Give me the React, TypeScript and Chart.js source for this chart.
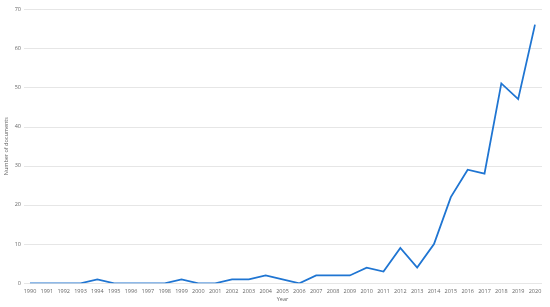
import React, { useEffect, useRef } from "react";
import { Chart, registerables } from "chart.js";

Chart.register(...registerables);

const years: string[] = [
  "1990","1991","1992","1993","1994","1995","1996","1997","1998","1999",
  "2000","2001","2002","2003","2004","2005","2006","2007","2008","2009",
  "2010","2011","2012","2013","2014","2015","2016","2017","2018","2019","2020",
];
const documents: number[] = [
  0, 0, 0, 0, 1, 0, 0, 0, 0, 1,
  0, 0, 1, 1, 2, 1, 0, 2, 2, 2,
  4, 3, 9, 4, 10, 22, 29, 28, 51, 47, 66,
];
const yAxisTitle = "Number of documents";
const xAxisTitle = "Year";

const gridPlugin = {
  id: "extendedGrid",
  beforeDatasetsDraw(chart: any) {
    const { ctx, chartArea, scales } = chart;
    const y = scales.y;
    ctx.save();
    ctx.strokeStyle = "#e6e6e6";
    ctx.lineWidth = 1;
    y.ticks.forEach((_t: any, i: number) => {
      const py = Math.round(y.getPixelForTick(i)) + 0.5;
      ctx.beginPath();
      ctx.moveTo(chartArea.left - 6, py);
      ctx.lineTo(chartArea.right + 7, py);
      ctx.stroke();
    });
    ctx.restore();
  },
};

export default function App() {
  const ref = useRef<HTMLCanvasElement | null>(null);
  useEffect(() => {
    document.body.style.margin = "0";
    if (!ref.current) return;
    const textColor = "#666666";
    const font = { family: "'Open Sans', 'Liberation Sans', sans-serif", size: 5.5 };
    const chart = new Chart(ref.current, {
      type: "line",
      data: {
        labels: years,
        datasets: [
          {
            data: documents,
            borderColor: "#1f75d2",
            borderWidth: 1.8,
            pointRadius: 0,
            tension: 0,
            fill: false,
          },
        ],
      },
      plugins: [gridPlugin],
      options: {
        animation: false,
        responsive: false,
        maintainAspectRatio: false,
        layout: { padding: { top: 9, right: 15, left: 0, bottom: 0 } },
        plugins: { legend: { display: false }, tooltip: { enabled: false } },
        scales: {
          x: {
            offset: false,
            grid: { display: false, drawTicks: false },
            border: { display: false },
            ticks: { color: textColor, font, padding: 5, maxRotation: 0, autoSkip: false },
            title: { display: true, text: xAxisTitle, color: textColor, font, padding: { top: 1, bottom: 4 } },
            afterFit: (s: any) => { s.height = 23.7; },
          },
          y: {
            min: 0,
            max: 70,
            ticks: { stepSize: 10, color: textColor, font, padding: 9 },
            grid: { display: false, drawTicks: false },
            border: { display: false },
            title: { display: true, text: yAxisTitle, color: textColor, font, padding: { top: 3, bottom: 0 } },
            afterFit: (s: any) => {
              s.width = 30;
              s.paddingTop = 3;
              s.paddingBottom = 3;
            },
          },
        },
      },
    });
    return () => chart.destroy();
  }, []);
  return (
    <div style={{ width: 550, height: 307 }}>
      <canvas ref={ref} width={550} height={307} style={{ width: 550, height: 307 }} />
    </div>
  );
}
